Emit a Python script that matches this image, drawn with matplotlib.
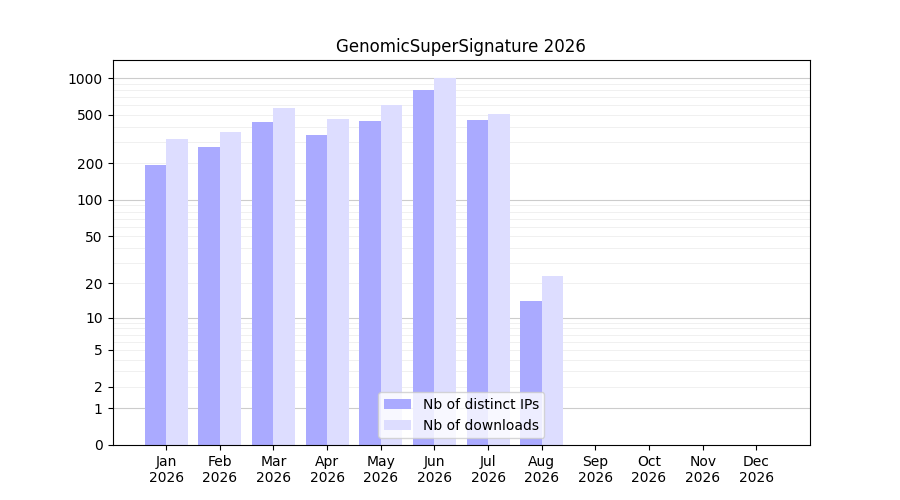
import numpy as np
import matplotlib
matplotlib.use("Agg")
import matplotlib.pyplot as plt

months = ["Jan", "Feb", "Mar", "Apr", "May", "Jun", "Jul", "Aug", "Sep", "Oct", "Nov", "Dec"]
ips = [193, 272, 437, 342, 445, 799, 453, 14, 0, 0, 0, 0]
downloads = [317, 361, 568, 463, 602, 1000, 507, 23, 0, 0, 0, 0]
yticks = [0, 1, 2, 5, 10, 20, 50, 100, 200, 500, 1000]

fwd = lambda v: np.log10(1 + np.clip(v, 0, None))
inv = lambda t: 10 ** t - 1

fig, ax = plt.subplots(figsize=(9, 5), dpi=100)
ax.set_yscale("function", functions=(fwd, inv))
x = np.arange(len(months))
ax.bar(x, ips, width=-0.4, align="edge", color="#aaaaff", label="Nb of distinct IPs", zorder=2)
ax.bar(x, downloads, width=0.4, align="edge", color="#ddddff", label="Nb of downloads", zorder=2)

# grid lines
for m in [1, 10, 100, 1000]:
    ax.axhline(m, color="#cccccc", lw=0.8, zorder=0)
for m in [1, 10, 100]:
    for k in range(2, 10):
        ax.axhline(m * k, color="#eeeeee", lw=0.6, zorder=0)

ax.set_yticks(yticks)
ax.set_yticklabels([str(t) for t in yticks])
ax.minorticks_off()
ax.set_ylim(0, 1405)
ax.set_xlim(-1, 12)
ax.set_xticks(x)
ax.set_xticklabels([m + "\n2026" for m in months])
ax.set_title("GenomicSuperSignature 2026")
ax.legend(loc="lower center")
fig.savefig("out.png")
